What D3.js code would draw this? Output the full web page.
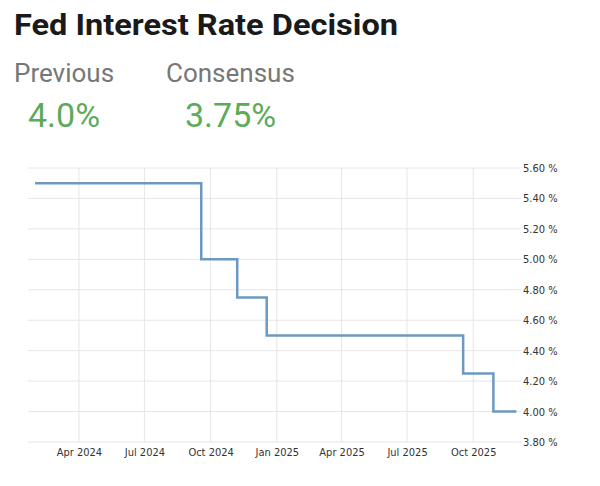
<!DOCTYPE html>
<html>
<head>
<meta charset="utf-8">
<script src="https://cdn.jsdelivr.net/npm/d3@7"></script>
<style>
  html, body { margin: 0; padding: 0; background: #fff; }
  svg { display: block; }
  .axis text { font-family: 'DejaVu Sans Condensed', 'DejaVu Sans', sans-serif; font-size: 11px; fill: #333; }
</style>
</head>
<body>
<div id="chart"></div>
<script>
// rate decisions (step after each date)
const dates = ['2024-01-31', '2024-09-18', '2024-11-07', '2024-12-18', '2025-09-17', '2025-10-29', '2025-11-30'];
const rates = [5.5, 5.0, 4.75, 4.5, 4.25, 4.0, 4.0];

const xTicks = ['2024-04-01', '2024-07-01', '2024-10-01', '2025-01-01', '2025-04-01', '2025-07-01', '2025-10-01'];
const yTicks = [3.8, 4.0, 4.2, 4.4, 4.6, 4.8, 5.0, 5.2, 5.4, 5.6];

const headers = ['Previous', 'Consensus'];
const headerValues = ['4.0%', '3.75%'];

const width = 600;
const height = 486;
const parse = d3.utcParse('%Y-%m-%d');

const data = dates.map((d, i) => ({ date: parse(d), rate: rates[i] }));

const x = d3
  .scaleUtc()
  .domain([parse('2024-01-24'), parse('2025-12-05')])
  .range([30, 520]);
const y = d3.scaleLinear().domain([3.8, 5.6]).range([442, 168]);

const svg = d3
  .select('#chart')
  .append('svg')
  .attr('width', width)
  .attr('height', height);

// header
svg
  .append('text')
  .attr('x', 14)
  .attr('y', 35)
  .attr('textLength', 384)
  .attr('lengthAdjust', 'spacingAndGlyphs')
  .style('font-family', 'Roboto, sans-serif')
  .style('font-weight', 'bold')
  .style('font-size', '29px')
  .style('fill', '#1a1a1a')
  .text('Fed Interest Rate Decision');

const headerX = [14, 166];
const valueX = [28, 185];
headers.forEach((h, i) => {
  svg
    .append('text')
    .attr('x', headerX[i])
    .attr('y', 82)
    .style('font-family', 'Roboto, sans-serif')
    .style('font-size', '26px')
    .style('fill', '#777')
    .text(h);
  svg
    .append('text')
    .attr('x', valueX[i])
    .attr('y', 127)
    .style('font-family', 'Roboto, sans-serif')
    .style('font-size', '34px')
    .style('fill', '#5aab5a')
    .text(headerValues[i]);
});

// grid
const grid = svg.append('g').attr('class', 'grid');
grid
  .selectAll('.hline')
  .data(yTicks)
  .enter()
  .append('line')
  .attr('x1', 28)
  .attr('x2', 521)
  .attr('y1', d => y(d))
  .attr('y2', d => y(d))
  .style('stroke', '#e6e6e6');

grid
  .selectAll('.vline')
  .data(xTicks.map(parse))
  .enter()
  .append('line')
  .attr('x1', d => x(d))
  .attr('x2', d => x(d))
  .attr('y1', y(5.6))
  .attr('y2', y(3.8))
  .style('stroke', '#e6e6e6');

// axes
const yAxis = d3
  .axisRight(y)
  .tickValues(yTicks)
  .tickSize(0)
  .tickPadding(3)
  .tickFormat(d => `${d3.format('.2f')(d)} %`);

svg
  .append('g')
  .attr('class', 'y axis')
  .attr('transform', `translate(520, 0)`)
  .call(yAxis)
  .call(g => g.select('.domain').remove());

const xAxis = d3
  .axisBottom(x)
  .tickValues(xTicks.map(parse))
  .tickSize(0)
  .tickPadding(6)
  .tickFormat(d3.utcFormat('%b %Y'));

svg
  .append('g')
  .attr('class', 'x axis')
  .attr('transform', `translate(0, ${y(3.8)})`)
  .call(xAxis)
  .call(g => g.select('.domain').remove());

// step line
const line = d3
  .line()
  .x(d => x(d.date))
  .y(d => y(d.rate))
  .curve(d3.curveStepAfter);

svg
  .append('path')
  .datum(data)
  .attr('d', line)
  .style('fill', 'none')
  .style('stroke', '#6d98c2')
  .style('stroke-width', 2.5);
</script>
</body>
</html>
